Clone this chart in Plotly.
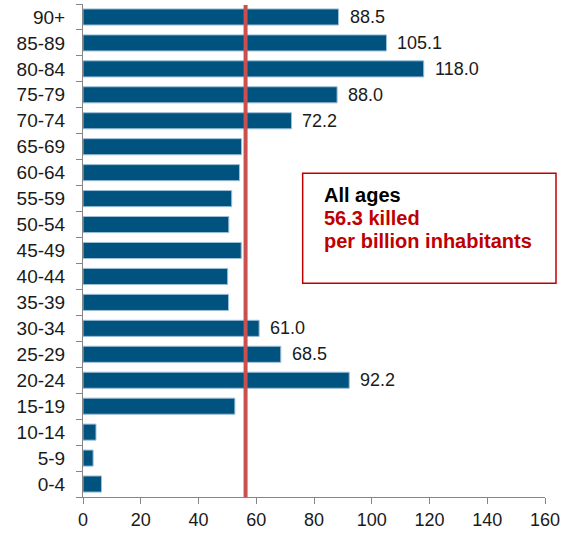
import plotly.graph_objects as go

categories = ["0-4", "5-9", "10-14", "15-19", "20-24", "25-29", "30-34", "35-39",
              "40-44", "45-49", "50-54", "55-59", "60-64", "65-69", "70-74",
              "75-79", "80-84", "85-89", "90+"]
values = [6.4, 3.5, 4.5, 52.6, 92.2, 68.5, 61.0, 50.4, 50.1, 54.8, 50.5, 51.5,
          54.2, 54.9, 72.2, 88.0, 118.0, 105.1, 88.5]
labels = [None, None, None, None, "92.2", "68.5", "61.0", None, None, None, None,
          None, None, None, "72.2", "88.0", "118.0", "105.1", "88.5"]
all_ages = 56.3
x_ticks = [0, 20, 40, 60, 80, 100, 120, 140, 160]
box_lines = ["All ages", "%s killed" % all_ages, "per billion inhabitants"]
box_colors = ["black", "#C00000", "#C00000"]

FONT = "Liberation Sans, Arial, sans-serif"

fig = go.Figure()
fig.add_trace(go.Bar(
    y=categories, x=values, orientation="h",
    marker=dict(color="#00527F", line=dict(color="#9DBFD8", width=1)),
    width=0.62, hoverinfo="skip",
))

for c, v, lab in zip(categories, values, labels):
    if lab:
        fig.add_annotation(x=v, y=c, text=lab, showarrow=False, xanchor="left",
                           yanchor="middle", xshift=9,
                           font=dict(family=FONT, size=18, color="#1a1a1a"))

fig.add_shape(type="line", xref="x", yref="paper", x0=all_ages, x1=all_ages,
              y0=0, y1=0.998, line=dict(color="#C9504F", width=4))

fig.add_shape(type="rect", xref="paper", yref="paper", x0=0.4755, x1=1.0238,
              y0=0.4335, y1=0.6566, line=dict(color="#C00000", width=1.5),
              fillcolor="white", layer="above")
for i, (t, col) in enumerate(zip(box_lines, box_colors)):
    fig.add_annotation(xref="paper", yref="paper", x=0.5175, y=0.6126,
                       yshift=-23 * i, xanchor="left", yanchor="middle",
                       showarrow=False, text="<b>%s</b>" % t,
                       font=dict(family=FONT, size=20, color=col))

fig.update_layout(
    width=569, height=536,
    margin=dict(l=83, r=24, t=4, b=39),
    paper_bgcolor="white", plot_bgcolor="white",
    showlegend=False,
    bargap=0.38,
    xaxis=dict(range=[0, 160], tickvals=x_ticks, ticks="outside", ticklen=6,
               tickcolor="#868686", showline=True, linecolor="#868686", linewidth=1,
               showgrid=False, zeroline=False,
               tickfont=dict(family=FONT, size=18, color="#1a1a1a")),
    yaxis=dict(type="category", categoryorder="array", categoryarray=categories,
               ticks="outside", ticklen=6, tickson="boundaries", tickcolor="#868686",
               showline=True, linecolor="#868686", linewidth=1, showgrid=False,
               automargin=False, ticklabelstandoff=13,
               tickfont=dict(family=FONT, size=19, color="#1a1a1a")),
)

fig.write_html("out.html", config={"displayModeBar": False},
               post_script="document.body.style.margin='0';")
